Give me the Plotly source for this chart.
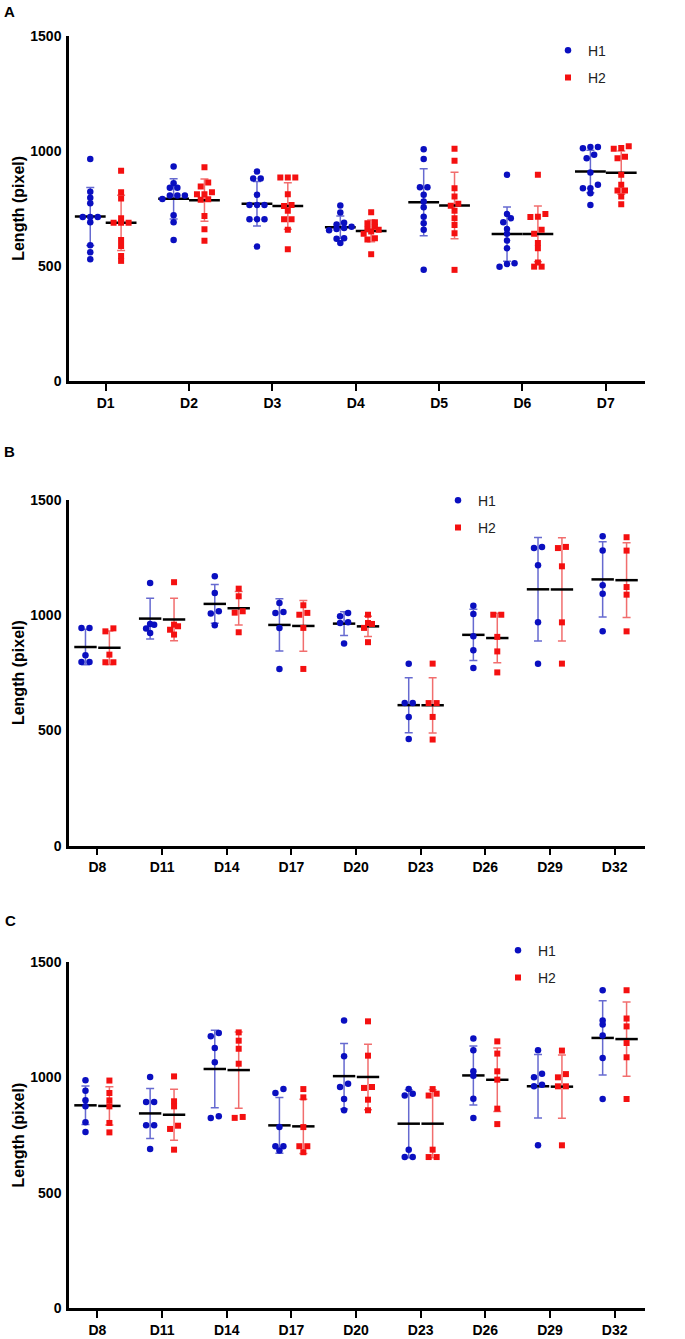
"""
Drei Streudiagramme (A, B, C): Länge in Pixeln pro Tag, je zwei Messreihen
H1 (blaue Punkte) und H2 (rote Quadrate), mit Mittelwert und +/- SD.
"""
import numpy as np
import plotly.graph_objects as go

BREITE, HOEHE = 685, 1339
# Ausgleich für das Foto der Seite (leicht gestaucht und nach unten versetzt)
FOTO_SKALA, FOTO_VERSATZ = 0.988, 8.4
FONT = "Arial, Liberation Sans, sans-serif"
BLAU = "#0a0fc0"
ROT = "#f41010"
BLAU_FEHLER = "rgba(75, 80, 200, 0.85)"
ROT_FEHLER = "rgba(238, 85, 85, 0.85)"

# --- Daten ---
tage_a = ["D1", "D2", "D3", "D4", "D5", "D6", "D7"]
a_h1 = [
    [964, 822, 796, 772, 713, 713, 713, 690, 590, 559, 529],
    [932, 859, 840, 840, 806, 806, 806, 791, 720, 690, 613],
    [910, 880, 880, 809, 765, 765, 765, 703, 703, 703, 584],
    [762, 732, 688, 680, 670, 665, 660, 655, 620, 618, 600],
    [1007, 964, 842, 842, 809, 780, 755, 714, 685, 657, 483],
    [896, 725, 707, 690, 660, 640, 610, 577, 512, 508, 497],
    [1016, 1016, 1011, 983, 968, 906, 852, 837, 837, 816, 765],
]
a_h2 = [
    [913, 820, 793, 707, 688, 688, 688, 613, 587, 543, 522],
    [928, 862, 845, 820, 811, 811, 790, 787, 717, 659, 609],
    [884, 884, 884, 811, 765, 760, 740, 703, 703, 657, 573],
    [733, 690, 685, 670, 660, 657, 650, 640, 620, 615, 551],
    [1009, 957, 837, 801, 770, 761, 740, 707, 678, 642, 483],
    [896, 725, 714, 712, 657, 640, 600, 577, 515, 497, 497],
    [1020, 1012, 1009, 974, 968, 896, 852, 828, 828, 801, 768],
]

tage_bc = ["D8", "D11", "D14", "D17", "D20", "D23", "D26", "D29", "D32"]
b_h1 = [
    [944, 944, 825, 796, 796],
    [1139, 961, 958, 941, 922],
    [1168, 1095, 1016, 1006, 955],
    [1052, 1013, 1009, 944, 766],
    [1009, 994, 968, 965, 876],
    [789, 618, 618, 558, 462],
    [1040, 1004, 908, 847, 770],
    [1295, 1290, 1215, 968, 788],
    [1341, 1280, 1129, 1092, 929],
]
b_h2 = [
    [942, 929, 828, 795, 795],
    [1142, 958, 951, 936, 915],
    [1114, 1081, 1016, 1010, 925],
    [1042, 1009, 1001, 944, 766],
    [1001, 965, 961, 944, 882],
    [789, 618, 618, 558, 460],
    [1001, 1001, 905, 842, 751],
    [1295, 1290, 1211, 968, 789],
    [1337, 1279, 1121, 1088, 929],
]
c_h1 = [
    [988, 943, 901, 875, 806, 764],
    [1002, 894, 894, 793, 793, 690],
    [1193, 1179, 1128, 1066, 832, 825],
    [950, 933, 785, 702, 702, 683],
    [1248, 1092, 973, 959, 907, 858],
    [950, 930, 922, 687, 655, 655],
    [1169, 1118, 1027, 1008, 908, 825],
    [1118, 1017, 1001, 969, 962, 706],
    [1379, 1248, 1230, 1183, 1085, 907],
]
c_h2 = [
    [987, 933, 901, 875, 803, 762],
    [1005, 897, 875, 791, 777, 687],
    [1196, 1160, 1125, 1060, 829, 825],
    [950, 914, 785, 702, 702, 676],
    [1244, 1095, 959, 955, 904, 858],
    [950, 930, 922, 687, 655, 655],
    [1157, 1104, 1027, 991, 865, 798],
    [1117, 1015, 1001, 962, 962, 706],
    [1379, 1256, 1222, 1150, 1088, 907],
]

# Plotflächen in Bild-Pixeln: (oben, unten) je Panel, links/rechts gemeinsam
PANELS = [
    dict(label="A", tage=tage_a, h1=a_h1, h2=a_h2, oben=36, unten=381.5,
         label_pos=(9, 12), legende=(569, 50), mittel_breite=22, dx_px=7.5),
    dict(label="B", tage=tage_bc, h1=b_h1, h2=b_h2, oben=500, unten=846,
         label_pos=(9, 452), legende=(459, 500), mittel_breite=16, dx_px=8),
    dict(label="C", tage=tage_bc, h1=c_h1, h2=c_h2, oben=962.7, unten=1308.3,
         label_pos=(10, 921), legende=(519, 950), mittel_breite=16, dx_px=8),
]
LINKS, RECHTS = 69, 645
Y_MAX = 1500
GRUPPEN_OFFSET = 0.185  # H1 links, H2 rechts vom Tick
X_RAND_L, X_RAND_R = 0.44, 0.47


def py(y_bild):
    """Bild-Pixel (von oben) -> Papierkoordinate der Grafik."""
    return 1 - ((y_bild - FOTO_VERSATZ) / FOTO_SKALA) / HOEHE


def schwarm_offsets(werte, schwelle, dx):
    """Einfacher Beeswarm: nahe beieinander liegende Werte werden in einer
    Zeile symmetrisch nebeneinander gelegt (wie bei Prism)."""
    werte = np.asarray(werte, dtype=float)
    reihenfolge = np.argsort(werte)
    offsets = np.zeros(len(werte))

    def zeile_setzen(zeile):
        k = len(zeile)
        for i, idx in enumerate(zeile):
            offsets[idx] = (i - (k - 1) / 2) * dx

    zeile = [reihenfolge[0]]
    for idx in reihenfolge[1:]:
        if werte[idx] - werte[zeile[0]] < schwelle:
            zeile.append(idx)
        else:
            zeile_setzen(zeile)
            zeile = [idx]
    zeile_setzen(zeile)
    return offsets


fig = go.Figure()
layout_achsen = {}
annotationen = []

for p_i, panel in enumerate(PANELS, start=1):
    xa = "x" if p_i == 1 else f"x{p_i}"
    ya = "y" if p_i == 1 else f"y{p_i}"
    leg = "legend" if p_i == 1 else f"legend{p_i}"
    n = len(panel["tage"])

    x_bereich = (-X_RAND_L, n - 1 + X_RAND_R)
    px_pro_x = (RECHTS - LINKS) / (x_bereich[1] - x_bereich[0])
    px_pro_y = (panel["unten"] - panel["oben"]) / Y_MAX
    dx = panel["dx_px"] / px_pro_x
    schwelle = 4.0 / px_pro_y

    for name, reihen, farbe, fehlerfarbe, symbol, richtung in [
        ("H1", panel["h1"], BLAU, BLAU_FEHLER, "circle", -1),
        ("H2", panel["h2"], ROT, ROT_FEHLER, "square", 1),
    ]:
        mittel = [float(np.mean(r)) for r in reihen]
        sd = [float(np.std(r, ddof=1)) for r in reihen]
        x_mitte = [i + richtung * GRUPPEN_OFFSET for i in range(n)]

        # Mittelwertstrich + Fehlerbalken (SD)
        fig.add_trace(go.Scatter(
            x=x_mitte, y=mittel, mode="markers", xaxis=xa, yaxis=ya,
            marker=dict(symbol="line-ew", size=panel["mittel_breite"],
                        line=dict(width=2.5, color="black"), color="black"),
            error_y=dict(type="data", array=sd, visible=True,
                         color=fehlerfarbe, thickness=1.5, width=4),
            showlegend=False, hoverinfo="skip",
        ))

        xs, ys = [], []
        for i, r in enumerate(reihen):
            offs = schwarm_offsets(r, schwelle, dx)
            xs.extend(x_mitte[i] + o for o in offs)
            ys.extend(r)
        fig.add_trace(go.Scatter(
            x=xs, y=ys, mode="markers", name=name, xaxis=xa, yaxis=ya,
            marker=dict(symbol=symbol, color=farbe,
                        size=6.5 if symbol == "circle" else 6),
            legend=leg, legendgroup=f"{panel['label']}{name}",
        ))

    y_dom = [py(panel["unten"]), py(panel["oben"])]
    x_dom = [LINKS / BREITE, RECHTS / BREITE]
    layout_achsen["xaxis" if p_i == 1 else f"xaxis{p_i}"] = dict(
        domain=x_dom, anchor=ya, range=list(x_bereich),
        tickvals=list(range(n)), ticktext=panel["tage"],
        showline=True, linewidth=2.5, linecolor="black", showgrid=False,
        zeroline=False, ticks="outside", ticklen=7, tickwidth=2,
        tickcolor="black",
        tickfont=dict(family=FONT, size=14, color="black", weight="bold"),
    )
    layout_achsen["yaxis" if p_i == 1 else f"yaxis{p_i}"] = dict(
        domain=y_dom, anchor=xa, range=[0, Y_MAX],
        tickvals=[0, 500, 1000, 1500],
        showline=True, linewidth=2.5, linecolor="black", showgrid=False,
        zeroline=False, ticks="", ticklabelstandoff=2,
        tickfont=dict(family=FONT, size=14, color="black", weight="bold"),
        title=dict(text="Length (pixel)", standoff=2,
                   font=dict(family=FONT, size=16, color="black", weight="bold")),
    )
    lx, ly = panel["legende"]
    layout_achsen[leg] = dict(
        x=(lx - 21) / BREITE, y=py(ly - 15),
        xanchor="left", yanchor="top", bgcolor="rgba(0,0,0,0)",
        font=dict(family=FONT, size=14, color="#222"),
        traceorder="grouped", tracegroupgap=6,
    )
    annotationen.append(dict(
        text=f"<b>{panel['label']}</b>", xref="paper", yref="paper",
        x=panel["label_pos"][0] / BREITE, y=py(panel["label_pos"][1]),
        xanchor="center", yanchor="middle", showarrow=False,
        font=dict(family=FONT, size=15, color="black"),
    ))

fig.update_layout(
    width=BREITE, height=HOEHE,
    margin=dict(l=0, r=0, t=0, b=0),
    paper_bgcolor="white", plot_bgcolor="white",
    annotations=annotationen,
    **layout_achsen,
)

# Seitenrand/Scrollbalken des Browsers entfernen
seiten_js = (
    "document.documentElement.style.margin = '0';"
    "document.documentElement.style.overflow = 'hidden';"
    "document.body.style.margin = '0';"
    "document.body.style.padding = '0';"
)
fig.write_html("out.html", post_script=seiten_js,
               config={"displayModeBar": False})
